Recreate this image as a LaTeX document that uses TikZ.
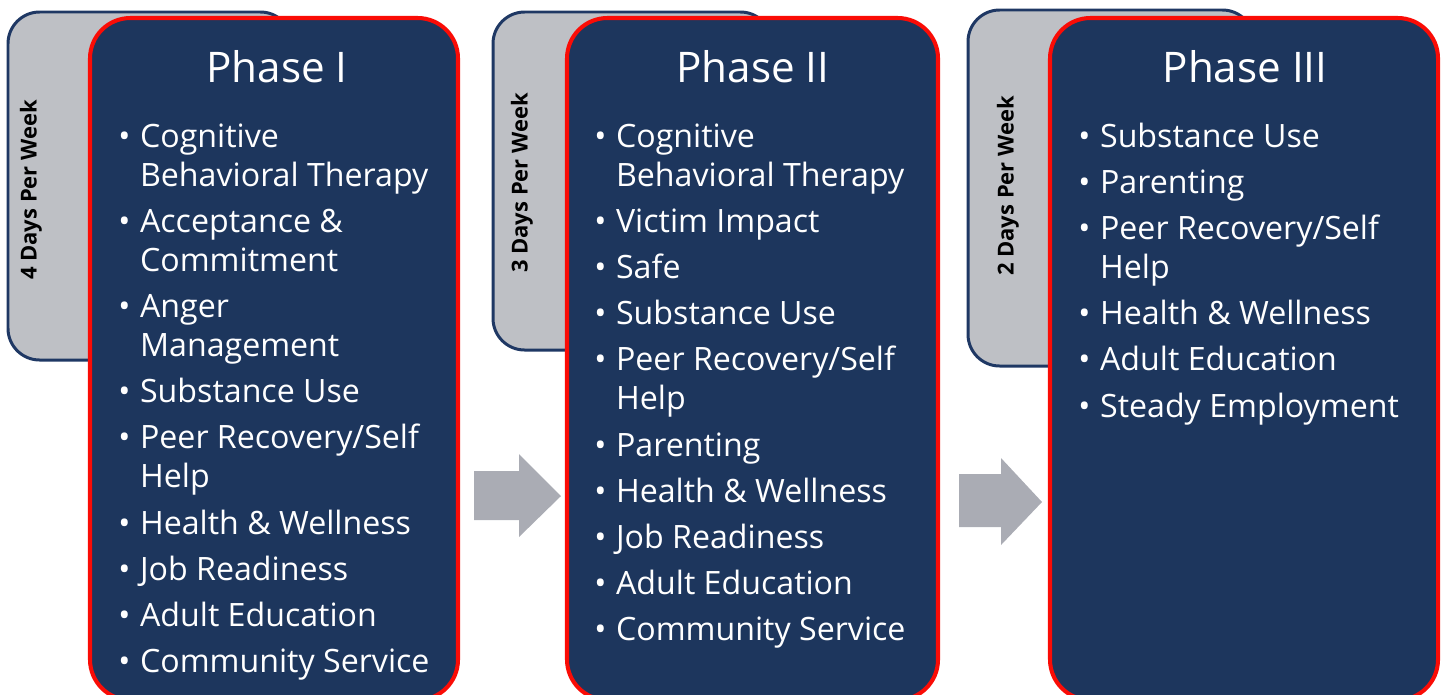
\documentclass[tikz,border=0pt]{standalone}
\usepackage{fontspec}
\setmainfont{Open Sans}
\usepackage{tikz}
\usetikzlibrary{calc}

\definecolor{phasenavy}{RGB}{29,54,93}
\definecolor{tabgray}{RGB}{190,192,197}
\definecolor{tabline}{RGB}{31,56,100}
\definecolor{arrowgray}{RGB}{170,172,180}
\definecolor{phasered}{RGB}{250,12,6}

\tikzset{
  daytab/.style={fill=tabgray,draw=tabline,line width=1.7pt,rounded corners=18pt},
  phasebox/.style={fill=phasenavy,draw=phasered,line width=2.3pt,rounded corners=23pt},
  phasetitle/.style={anchor=base,inner sep=0pt,text=white,font=\fontsize{24pt}{28pt}\selectfont},
  phaselist/.style={anchor=base west,inner sep=0pt,text=white,font=\fontsize{18.3pt}{22.2pt}\selectfont},
  daylabel/.style={rotate=90,inner sep=0pt,font=\fontsize{12.5pt}{15pt}\selectfont\bfseries},
  nextarrow/.style={fill=arrowgray}
}
\newcommand{\itm}[1]{\textbullet & #1 \\[4.1pt]}
\newcommand{\itmtwo}[2]{\textbullet & #1 \\ & #2 \\[4.1pt]}

\begin{document}
\begin{tikzpicture}[x=0.02cm,y=-0.02cm]
    \useasboundingbox (0,0) rectangle (1442,694);
    \clip (0,0) rectangle (1442,694);
    % tabs behind the boxes
    \draw[daytab] (8,12) rectangle (292,360);
    \draw[daytab] (493,12) rectangle (772,350);
    \draw[daytab] (968,10) rectangle (1254,366);
    \node[daylabel] (days1) at (31,190) {4 Days Per Week};
    \node[daylabel] (days2) at (522,183) {3 Days Per Week};
    \node[daylabel] (days3) at (1008,186) {2 Days Per Week};
    % phase boxes
    \draw[phasebox] (90,18) rectangle (458,700);
    \draw[phasebox] (567,18) rectangle (938,700);
    \draw[phasebox] (1050,18) rectangle (1438,700);
    % arrows between phases
    \fill[nextarrow] (474,471) -- (519,471) -- (519,454) -- (561,496) -- (519,537) -- (519,520) -- (474,520) -- cycle;
    \fill[nextarrow] (959,474) -- (1001,474) -- (1001,458) -- (1042,502) -- (1001,545) -- (1001,527) -- (959,527) -- cycle;
    % titles
    \node[phasetitle] (title1) at (277,82) {Phase I};
    \node[phasetitle] (title2) at (753,82) {Phase II};
    \node[phasetitle] (title3) at (1245,82) {Phase III};
    % lists
    \node[phaselist] (list1) at (118,147) {\begin{tabular}[t]{@{}l@{\hspace{5.5pt}}l@{}}
      \itmtwo{Cognitive}{Behavioral Therapy}
      \itmtwo{Acceptance \&}{Commitment}
      \itmtwo{Anger}{Management}
      \itm{Substance Use}
      \itmtwo{Peer Recovery/Self}{Help}
      \itm{Health \& Wellness}
      \itm{Job Readiness}
      \itm{Adult Education}
      \itm{Community Service}
    \end{tabular}};
    \node[phaselist] (list2) at (594,147) {\begin{tabular}[t]{@{}l@{\hspace{5.5pt}}l@{}}
      \itmtwo{Cognitive}{Behavioral Therapy}
      \itm{Victim Impact}
      \itm{Safe}
      \itm{Substance Use}
      \itmtwo{Peer Recovery/Self}{Help}
      \itm{Parenting}
      \itm{Health \& Wellness}
      \itm{Job Readiness}
      \itm{Adult Education}
      \itm{Community Service}
    \end{tabular}};
    \node[phaselist] (list3) at (1078,147) {\begin{tabular}[t]{@{}l@{\hspace{5.5pt}}l@{}}
      \itm{Substance Use}
      \itm{Parenting}
      \itmtwo{Peer Recovery/Self}{Help}
      \itm{Health \& Wellness}
      \itm{Adult Education}
      \itm{Steady Employment}
    \end{tabular}};
  \end{tikzpicture}
\end{document}
